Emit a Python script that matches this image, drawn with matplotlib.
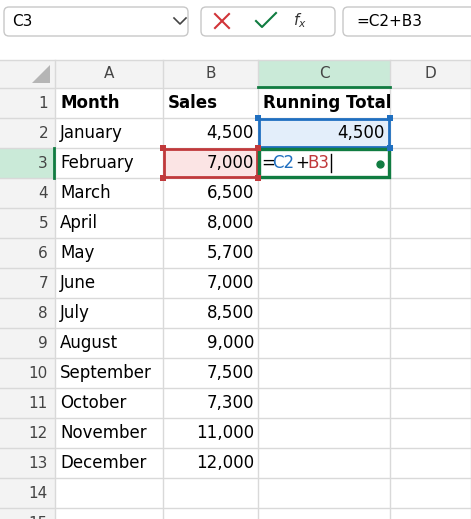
import matplotlib.pyplot as plt
from matplotlib.patches import Rectangle, Polygon, FancyBboxPatch

months = ["January", "February", "March", "April", "May", "June", "July",
          "August", "September", "October", "November", "December"]
sales = [4500, 7000, 6500, 8000, 5700, 7000, 8500, 9000, 7500, 7300, 11000, 12000]
col_letters = ["A", "B", "C", "D"]
headers = ["Month", "Sales", "Running Total"]

W, H = 471, 519
fig = plt.figure(figsize=(W / 100, H / 100), dpi=100)
ax = fig.add_axes([0, 0, 1, 1])
ax.set_xlim(0, W)
ax.set_ylim(H, 0)
ax.axis("off")
FONT = "DejaVu Sans"

# column edges and row geometry
col_x = [55, 163, 258, 390, 471]
hdr_top, hdr_bot = 60, 88
row_h = 30
def row_top(r):
    return hdr_bot + (r - 1) * row_h

grid = "#d9d9d9"
green = "#107c41"
blue = "#1f6fc0"
red = "#c0393b"

# toolbar
ax.add_patch(FancyBboxPatch((4, 7), 184, 29, boxstyle="round,pad=0,rounding_size=5",
                            fc="white", ec="#c8c8c8", lw=1))
ax.text(12, 21, "C3", fontsize=11, va="center", family=FONT)
ax.plot([174, 180, 186], [18, 24, 18], color="#444", lw=1.2)
ax.add_patch(FancyBboxPatch((201, 7), 134, 29, boxstyle="round,pad=0,rounding_size=5",
                            fc="white", ec="#c8c8c8", lw=1))
ax.plot([215, 229], [14, 28], color="#d13438", lw=1.5)
ax.plot([215, 229], [28, 14], color="#d13438", lw=1.5)
ax.plot([256, 262, 276], [21, 27, 13], color="#107c41", lw=1.5)
ax.text(300, 21, "$f_x$", fontsize=11, va="center", ha="center", color="#333")
ax.add_patch(FancyBboxPatch((343, 7), 140, 29, boxstyle="round,pad=0,rounding_size=5",
                            fc="white", ec="#c8c8c8", lw=1))
ax.text(356, 21, "=C2+B3", fontsize=11, va="center", family=FONT)

# column header band
ax.add_patch(Rectangle((0, hdr_top), W, hdr_bot - hdr_top, fc="#f3f3f3", ec="none"))
ax.add_patch(Rectangle((col_x[2], hdr_top), col_x[3] - col_x[2], hdr_bot - hdr_top,
                       fc="#caead8", ec="none"))
ax.add_patch(Polygon([[32, 83], [50, 83], [50, 65]], fc="#b5b5b5", ec="none"))
for i, letter in enumerate(col_letters):
    ax.text((col_x[i] + col_x[i + 1]) / 2, (hdr_top + hdr_bot) / 2, letter,
            ha="center", va="center", fontsize=11, color="#444", family=FONT)

# row header band
ax.add_patch(Rectangle((0, hdr_bot), col_x[0], H - hdr_bot, fc="#f3f3f3", ec="none"))
ax.add_patch(Rectangle((0, row_top(3)), col_x[0], row_h, fc="#caead8", ec="none"))
for r in range(1, 16):
    ax.text(48, row_top(r) + row_h / 2, str(r), ha="right", va="center",
            fontsize=11, color="#444", family=FONT)

# gridlines
for x in col_x:
    ax.plot([x, x], [hdr_top, H], color=grid, lw=1, zorder=2)
for r in range(0, 16):
    y = row_top(r + 1)
    ax.plot([0, W], [y, y], color=grid, lw=1, zorder=2)
ax.plot([0, W], [hdr_top, hdr_top], color=grid, lw=1, zorder=2)
ax.plot([col_x[2], col_x[3]], [hdr_bot - 1, hdr_bot - 1], color=green, lw=2, zorder=3)
ax.plot([col_x[0] - 1, col_x[0] - 1], [row_top(3), row_top(4)], color=green, lw=2, zorder=3)

# highlighted cells
ax.add_patch(Rectangle((col_x[2] + 1, row_top(2) + 1), col_x[3] - col_x[2] - 2, row_h - 2,
                       fc="#e3eefa", ec=blue, lw=2, zorder=3))
for cx, cy in [(col_x[2], row_top(2)), (col_x[3], row_top(2)),
               (col_x[2], row_top(3)), (col_x[3], row_top(3))]:
    ax.add_patch(Rectangle((cx - 3, cy - 3), 6, 6, fc=blue, ec="none", zorder=5))
ax.add_patch(Rectangle((col_x[1] + 1, row_top(3) + 1), col_x[2] - col_x[1] - 2, row_h - 2,
                       fc="#fbe4e4", ec=red, lw=2, zorder=3))
for cx, cy in [(col_x[1], row_top(3)), (col_x[2], row_top(3)),
               (col_x[1], row_top(4)), (col_x[2], row_top(4))]:
    ax.add_patch(Rectangle((cx - 3, cy - 3), 6, 6, fc=red, ec="none", zorder=5))
ax.add_patch(Rectangle((col_x[2] + 1, row_top(3) + 1), col_x[3] - col_x[2] - 2, row_h - 2,
                       fc="white", ec=green, lw=2.4, zorder=4))
ax.plot([380], [row_top(3) + 16], "o", color=green, ms=5, zorder=6)

# header row
for i, h in enumerate(headers):
    ax.text(col_x[i] + 5, row_top(1) + row_h / 2, h, ha="left", va="center",
            fontsize=12, fontweight="bold", family=FONT, zorder=6)

# data
for k, (m, s) in enumerate(zip(months, sales)):
    yc = row_top(k + 2) + row_h / 2
    ax.text(col_x[0] + 5, yc, m, ha="left", va="center", fontsize=12, family=FONT, zorder=6)
    ax.text(col_x[2] - 4, yc, f"{s:,}", ha="right", va="center", fontsize=12,
            family=FONT, zorder=6)

# running total & formula
ax.text(col_x[3] - 5, row_top(2) + row_h / 2, f"{sales[0]:,}", ha="right",
        va="center", fontsize=12, family=FONT, zorder=6)
yc = row_top(3) + row_h / 2
parts = [("=", "black", 3), ("C2", blue, 14), ("+", "black", 37), ("B3", red, 49)]
for s, c, dx in parts:
    ax.text(col_x[2] + dx, yc, s, ha="left", va="center", fontsize=12,
            color=c, family=FONT, zorder=6)
ax.plot([col_x[2] + 73, col_x[2] + 73], [yc - 9, yc + 9], color="black", lw=1, zorder=6)

fig.savefig("out.png", dpi=100)
